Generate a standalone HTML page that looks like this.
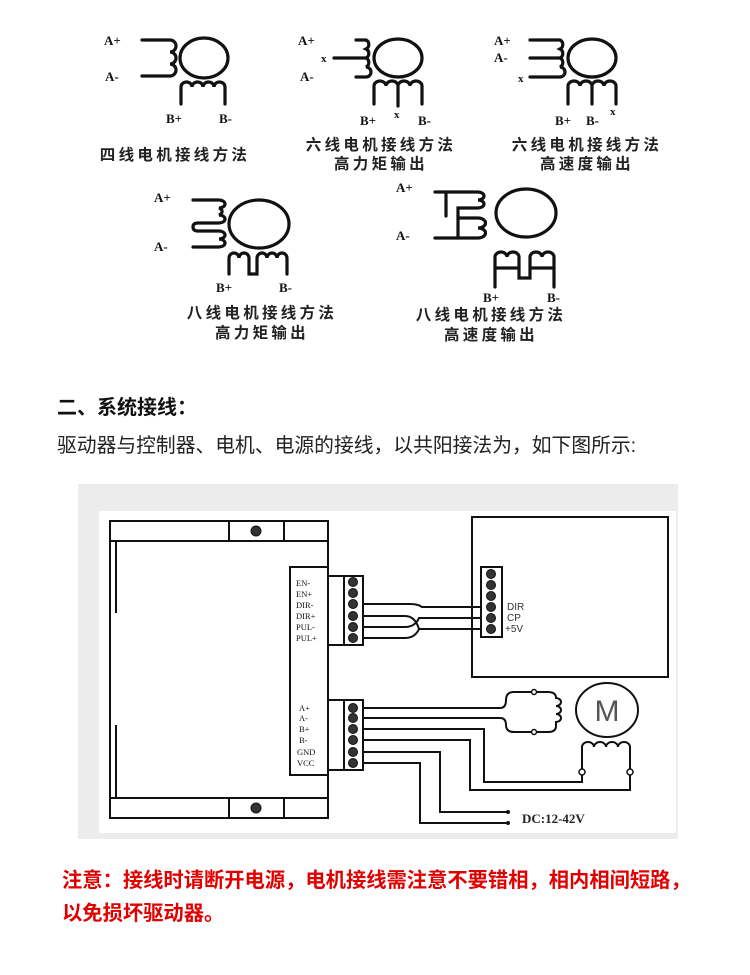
<!DOCTYPE html>
<html><head><meta charset="utf-8"><style>
html,body{margin:0;padding:0;background:#fff;width:750px;height:975px;overflow:hidden}
svg{display:block}
.l{font-family:"Liberation Serif","Noto Serif CJK SC",serif;font-weight:bold;font-size:13px;fill:#111}
.c{font-family:"Noto Sans CJK SC","WenQuanYi Zen Hei",sans-serif;font-weight:bold;font-size:15.5px;letter-spacing:3.3px;fill:#222}
.s{font-family:"Liberation Serif",serif;font-size:8.5px;fill:#111}
</style></head><body>
<svg width="750" height="975" viewBox="0 0 750 975" xmlns="http://www.w3.org/2000/svg">
<g fill="none" stroke="#111" stroke-width="3.2" stroke-linecap="round">
<ellipse cx="204" cy="58" rx="24" ry="20"/>
<path d="M142 40 H170 a5 5 0 0 1 0 12 a5 5 0 0 1 0 12 a5 5 0 0 1 0 12 H142"/>
<path d="M181 104 V87 a5.5 5 0 0 1 11 0 a5.5 5 0 0 1 11 0 a5.5 5 0 0 1 11 0 a5.5 5 0 0 1 11 0 V104"/>
<ellipse cx="398" cy="58" rx="24" ry="19"/>
<path d="M356 40 H366 a5 5 0 0 1 0 9 a5 5 0 0 1 0 9 M334 58 H366 a5 5 0 0 1 0 9 a5 5 0 0 1 0 10 H356"/>
<path d="M374 104 V86 a6 5 0 0 1 12 0 a6 5 0 0 1 12 0 a6 5 0 0 1 12 0 a6 5 0 0 1 12 0 V104 M398 86 V106"/>
<ellipse cx="592" cy="58" rx="24" ry="19"/>
<path d="M530 40 H560 a5 5 0 0 1 0 9 a5 5 0 0 1 0 9 H530 M560 58 a5 5 0 0 1 0 9 a5 5 0 0 1 0 10 H530"/>
<path d="M568 104 V86 a6 5 0 0 1 12 0 a6 5 0 0 1 12 0 a6 5 0 0 1 12 0 a6 5 0 0 1 12 0 V104 M592 86 V104"/>
<ellipse cx="259" cy="224" rx="30" ry="24"/>
<path d="M193 200 H219 a6 4 0 0 1 0 8 a6 4 0 0 1 0 7 a6 4 0 0 1 0 8 H198 q-5 0 -5 4 q0 4 5 4 H219 a6 4 0 0 1 0 8 a6 4 0 0 1 0 8 H193"/>
<path d="M229 274 V258 a5 5 0 0 1 10 0 a5 5 0 0 1 10 0 V274 H257 V258 a5 5 0 0 1 10 0 a5 5 0 0 1 10 0 a5 5 0 0 1 10 0 V274"/>
<ellipse cx="526" cy="213" rx="30" ry="24"/>
<path d="M435 192 H478 a6 4 0 0 1 0 8 a6 4 0 0 1 0 8 H458 V238 M458 218 H478 a6 4 0 0 1 0 10 a6 4 0 0 1 0 10 H435 M446 192 V216"/>
<path d="M495 287 V257 a6 5 0 0 1 12 0 a6 5 0 0 1 12 0 V268 H495 M519 268 V278 H530 V257 a6 5 0 0 1 12 0 a6 5 0 0 1 12 0 V287 M530 268 H554"/>
</g>
<g class="l">
<text x="104" y="45">A+</text><text x="105" y="81">A-</text>
<text x="166" y="123">B+</text><text x="219" y="123">B-</text>
<text x="298" y="45">A+</text><text x="321" y="62" font-size="11">x</text><text x="300" y="81">A-</text>
<text x="360" y="125">B+</text><text x="394" y="118" font-size="11">x</text><text x="418" y="125">B-</text>
<text x="494" y="45">A+</text><text x="494" y="62">A-</text><text x="518" y="82" font-size="11">x</text>
<text x="555" y="125">B+</text><text x="586" y="125">B-</text><text x="610" y="115" font-size="11">x</text>
<text x="154" y="202">A+</text><text x="154" y="251">A-</text>
<text x="216" y="292">B+</text><text x="279" y="292">B-</text>
<text x="396" y="192">A+</text><text x="396" y="240">A-</text>
<text x="483" y="302">B+</text><text x="547" y="302">B-</text>
</g>
<g class="c" text-anchor="middle">
<text x="175" y="160">四线电机接线方法</text>
<text x="381" y="150">六线电机接线方法</text><text x="381" y="169">高力矩输出</text>
<text x="587" y="150">六线电机接线方法</text><text x="587" y="169">高速度输出</text>
<text x="262" y="318">八线电机接线方法</text><text x="262" y="338">高力矩输出</text>
<text x="491" y="320">八线电机接线方法</text><text x="491" y="340">高速度输出</text>
</g>
<text x="57" y="414" font-family="Liberation Sans,'Noto Sans CJK SC',sans-serif" font-weight="bold" font-size="20" fill="#111">二、系统接线：</text>
<text x="57" y="452" font-family="Liberation Sans,'Noto Sans CJK SC',sans-serif" font-size="19.8" fill="#222">驱动器与控制器、电机、电源的接线，以共阳接法为，如下图所示:</text>
<rect x="78" y="484" width="600" height="355" fill="#ececec"/>
<rect x="99" y="511" width="577" height="322" fill="#fff"/>
<g fill="none" stroke="#111" stroke-width="2">
<rect x="110" y="521" width="218" height="297"/>
<path d="M110 541 H328 M110 798 H328 M229 521 V541 M284 521 V541 M229 798 V818 M284 798 V818 M116 541 V613 M116 725 V798"/>
<rect x="290" y="567" width="38" height="208" fill="#fff"/>
<rect x="328" y="576" width="35" height="69"/><rect x="344" y="576" width="19" height="69"/>
<rect x="328" y="700" width="35" height="70"/><rect x="344" y="700" width="19" height="70"/>
<rect x="472" y="517" width="196" height="160"/>
<rect x="481" y="567" width="21" height="70"/>
<ellipse cx="607" cy="710" rx="31" ry="27"/>
<path d="M363 604 H410 q8 0 12 3 H481"/>
<path d="M363 616 H405 q10 0 14 13 H481"/>
<path d="M363 627 H405 q10 0 14 -9 H481"/>
<path d="M363 638 H405 q10 0 14 -9"/>
<path d="M363 708 H500 q6 0 6 -8 q0 -8 8 -8 H548 q8 0 8 6 V698 a5 4 0 0 1 0 8 a5 4 0 0 1 0 8 a5 4 0 0 1 0 8 V726 q0 6 -8 6 H514 q-8 0 -8 -7 q0 -7 -6 -7 H363"/>
<path d="M363 729 H484 V782 H582 V747 a6 5 0 0 1 12 0 a6 5 0 0 1 12 0 a6 5 0 0 1 12 0 a6 5 0 0 1 12 0 V790 H470 V740 H363"/>
<path d="M363 752 H440 V812 H507 M363 763 H420 V823 H507"/>
</g>
<g fill="#fff" stroke="#111" stroke-width="1.5">
<circle cx="534" cy="692" r="2.5"/><circle cx="534" cy="732" r="2.5"/>
<circle cx="582" cy="772" r="3"/><circle cx="630" cy="772" r="3"/>
</g>
<g fill="#111"><circle cx="508" cy="812" r="2"/><circle cx="508" cy="823" r="2"/></g>
<g fill="#333" stroke="#111" stroke-width="1">
<circle cx="256" cy="531" r="5"/><circle cx="256" cy="808" r="5"/>
<circle cx="353" cy="582" r="4.5"/><circle cx="353" cy="593" r="4.5"/><circle cx="353" cy="604" r="4.5"/><circle cx="353" cy="616" r="4.5"/><circle cx="353" cy="627" r="4.5"/><circle cx="353" cy="638" r="4.5"/>
<circle cx="353" cy="708" r="4.5"/><circle cx="353" cy="718" r="4.5"/><circle cx="353" cy="729" r="4.5"/><circle cx="353" cy="740" r="4.5"/><circle cx="353" cy="752" r="4.5"/><circle cx="353" cy="763" r="4.5"/>
<circle cx="491" cy="574" r="4.5"/><circle cx="491" cy="585" r="4.5"/><circle cx="491" cy="596" r="4.5"/><circle cx="491" cy="607" r="4.5"/><circle cx="491" cy="618" r="4.5"/><circle cx="491" cy="629" r="4.5"/>
</g>
<g class="s">
<text x="296" y="586">EN-</text><text x="296" y="597">EN+</text><text x="296" y="608">DIR-</text><text x="296" y="619">DIR+</text><text x="296" y="630">PUL-</text><text x="296" y="641">PUL+</text>
<text x="299" y="711">A+</text><text x="299" y="721">A-</text><text x="299" y="732">B+</text><text x="299" y="743">B-</text><text x="297" y="755">GND</text><text x="297" y="766">VCC</text>
</g>
<g font-family="Liberation Sans,sans-serif" font-size="10" fill="#333">
<text x="507" y="610">DIR</text><text x="507" y="621">CP</text><text x="505" y="632">+5V</text>
</g>
<text x="607" y="721" text-anchor="middle" font-family="Liberation Sans,sans-serif" font-size="30" fill="#555">M</text>
<text x="522" y="823" font-family="Liberation Serif,serif" font-weight="bold" font-size="13" fill="#222">DC:12-42V</text>
<g font-family="Liberation Sans,'Noto Sans CJK SC',sans-serif" font-weight="bold" font-size="20.3" fill="#e00000">
<text x="62" y="887">注意：接线时请断开电源，电机接线需注意不要错相，相内相间短路，</text>
<text x="62" y="920">以免损坏驱动器。</text>
</g>
</svg>
</body></html>
